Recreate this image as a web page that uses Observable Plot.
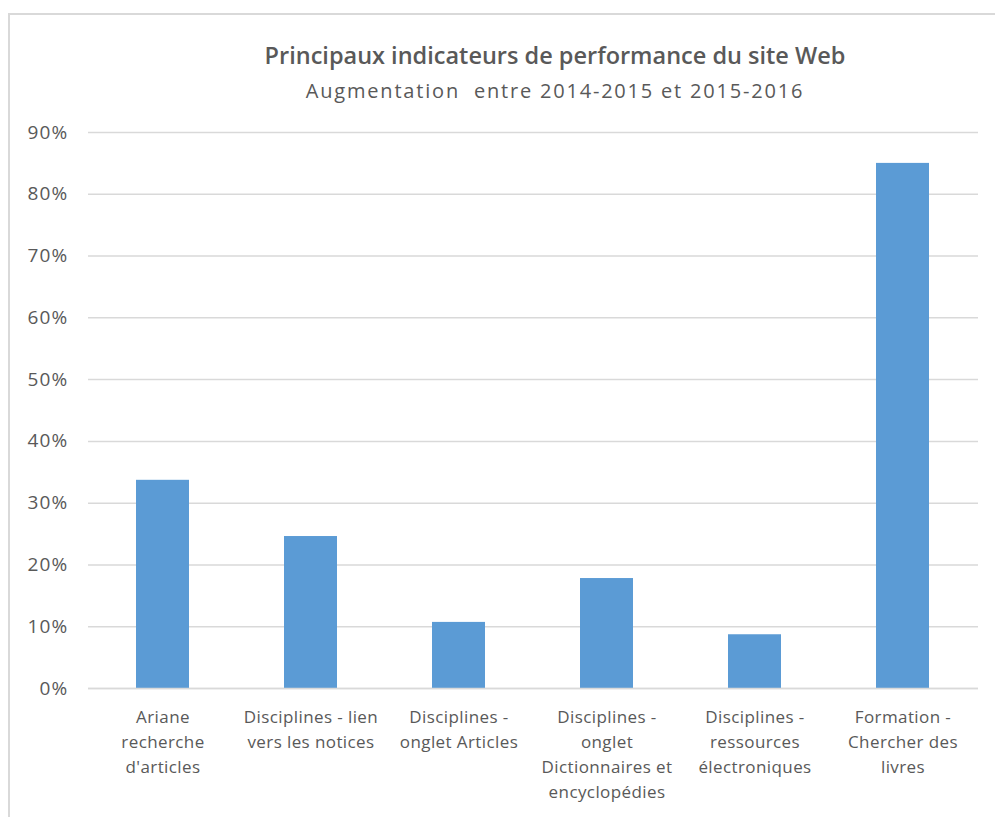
<!DOCTYPE html>
<html>
<head>
<meta charset="utf-8">
<script src="https://cdn.jsdelivr.net/npm/d3@7"></script>
<script src="https://cdn.jsdelivr.net/npm/@observablehq/plot@0.6"></script>
<style>
  body { margin: 0; background: #fff; font-family: "Open Sans", sans-serif; }
  #wrap { position: relative; width: 995px; height: 817px; overflow: hidden; background: #fff; }
  #frame { position: absolute; left: 8px; top: 13px; width: 1200px; height: 1000px;
           border-top: 2px solid #d9d9d9; border-left: 2px solid #d9d9d9; box-sizing: border-box; }
  #head { position: absolute; left: 0; top: 0; }
  #chart { position: absolute; left: 0; top: 110px; }
</style>
</head>
<body>
<div id="wrap">
  <div id="frame"></div>
  <svg id="head" width="995" height="110"></svg>
  <div id="chart"></div>
</div>
<script>
const title = "Principaux indicateurs de performance du site Web";
const subtitle = "Augmentation  entre 2014-2015 et 2015-2016";

const categories = [
  "Ariane recherche d'articles",
  "Disciplines - lien vers les notices",
  "Disciplines - onglet Articles",
  "Disciplines - onglet Dictionnaires et encyclopédies",
  "Disciplines - ressources électroniques",
  "Formation - Chercher des livres"
];
const tickLabels = [
  "Ariane\nrecherche\nd'articles",
  "Disciplines - lien\nvers les notices",
  "Disciplines -\nonglet Articles",
  "Disciplines -\nonglet\nDictionnaires et\nencyclopédies",
  "Disciplines -\nressources\nélectroniques",
  "Formation -\nChercher des\nlivres"
];
const values = [0.337, 0.246, 0.107, 0.178, 0.087, 0.850];
const yTicks = [0, 0.1, 0.2, 0.3, 0.4, 0.5, 0.6, 0.7, 0.8, 0.9];

const data = categories.map((c, i) => ({category: c, value: values[i]}));
const labelOf = new Map(categories.map((c, i) => [c, tickLabels[i]]));

const head = d3.select("#head");
head.append("text")
  .attr("x", 555).attr("y", 64).attr("text-anchor", "middle")
  .attr("fill", "#595959").attr("font-family", "Open Sans, sans-serif")
  .attr("font-size", 23.5).attr("font-weight", 600).text(title);
head.append("text")
  .attr("x", 555).attr("y", 98).attr("text-anchor", "middle")
  .attr("fill", "#595959").attr("font-family", "Open Sans, sans-serif")
  .attr("font-size", 20).attr("letter-spacing", 1.8)
  .style("white-space", "pre").text(subtitle);

const plot = Plot.plot({
  width: 995,
  height: 707,
  marginLeft: 88,
  marginRight: 17,
  marginTop: 22,
  marginBottom: 129,
  style: {fontFamily: "Open Sans, sans-serif", color: "#595959", background: "transparent"},
  x: {domain: categories, paddingInner: 0.64, paddingOuter: 0.32, label: null},
  y: {domain: [0, 0.9], label: null},
  marks: [
    Plot.gridY(yTicks, {stroke: "#d9d9d9", strokeOpacity: 1, strokeWidth: 1.5}),
    Plot.axisY(yTicks, {tickFormat: d => Math.round(d * 100) + "%", tickSize: 0, tickPadding: 20,
                        fontSize: 19, fill: "#595959", label: null}),
    Plot.barY(data, {x: "category", y: "value", fill: "#5b9bd5"}),
    Plot.ruleY([0], {stroke: "#d9d9d9", strokeWidth: 1.5}),
    Plot.axisX({tickFormat: d => labelOf.get(d), tickSize: 0, tickPadding: 17,
                fontSize: 17, lineHeight: 1.47, fill: "#595959", label: null})
  ]
});
document.getElementById("chart").appendChild(plot);
d3.select(plot).selectAll("g[aria-label='y-axis tick label'] text").attr("letter-spacing", 1.2);
d3.select(plot).selectAll("g[aria-label='x-axis tick label'] text").attr("letter-spacing", 0.4);
</script>
</body>
</html>
